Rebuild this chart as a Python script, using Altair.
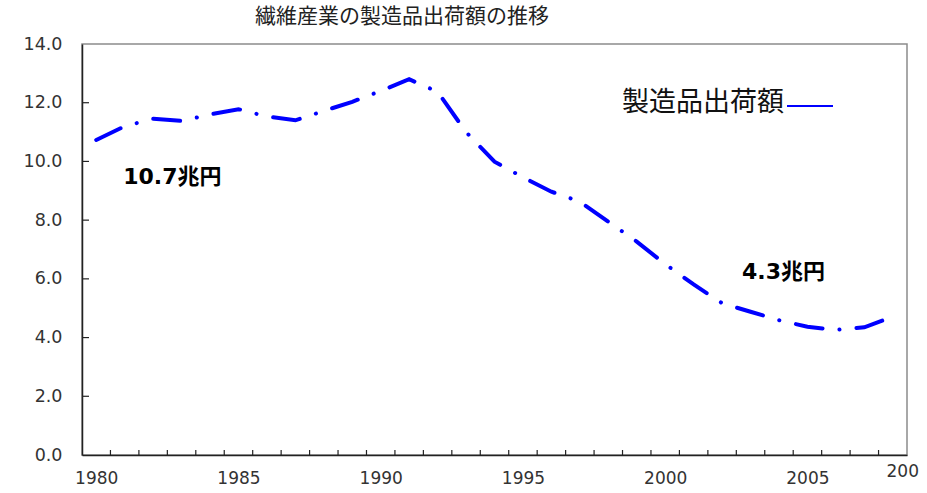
import altair as alt
import pandas as pd

# ---- data ----
years = list(range(1980, 2009))
values = [10.73, 11.2, 11.45, 11.38, 11.6, 11.78, 11.53, 11.4, 11.72, 12.03,
          12.4, 12.8, 12.37, 11.0, 9.99, 9.46, 8.97, 8.63, 7.95, 7.27,
          6.5, 5.81, 5.17, 4.88, 4.59, 4.37, 4.26, 4.35, 4.71]

x_label_years = [1980, 1985, 1990, 1995, 2000, 2005]
x_tick_positions = [y + 0.5 for y in range(1980, 2008)]
y_tick_values = [0, 2, 4, 6, 8, 10, 12, 14]

title_text = "繊維産業の製造品出荷額の推移"
legend_text = "製造品出荷額"
ann_texts = ["10.7兆円", "4.3兆円"]
ann_years = [1980.95, 2002.7]
ann_values = [9.48, 6.24]
cut_label = "200"
cut_label_year = [2008]

W, H = 825, 411
LABEL_FONT = "DejaVu Sans"
CJK_FONT = "Noto Sans CJK JP"
BOLD_MIX = "DejaVu Sans, Noto Sans CJK JP"

df = pd.DataFrame({"year": years, "value": values})
ann_df = pd.DataFrame({"year": ann_years, "value": ann_values, "text": ann_texts})
xt_df = pd.DataFrame({"pos": x_tick_positions})
yt_df = pd.DataFrame({"v": y_tick_values[1:-1]})

xscale = alt.Scale(domain=[1979.5, 2008.5], nice=False, zero=False)
yscale = alt.Scale(domain=[0, 14], nice=False)

line = alt.Chart(df).mark_line(
    color="#0000FF", strokeWidth=4, strokeDash=[27, 17, 0.1, 17], strokeCap="round"
).encode(
    x=alt.X("year:Q", scale=xscale,
            axis=alt.Axis(values=x_label_years, format="d", title=None, ticks=False,
                          tickSize=0, grid=False, domainColor="#222", domainWidth=1.5,
                          labelFont=LABEL_FONT, labelFontSize=17, labelColor="#333",
                          labelPadding=15)),
    y=alt.Y("value:Q", scale=yscale,
            axis=alt.Axis(values=y_tick_values, format=".1f", title=None, ticks=False,
                          tickSize=0, grid=False, domainColor="#222", domainWidth=1.5,
                          labelFont=LABEL_FONT, labelFontSize=17.5, labelColor="#333",
                          labelPadding=20)),
)

xticks = alt.Chart(xt_df).mark_rule(color="#222", strokeWidth=1.2).encode(
    x=alt.X("pos:Q", scale=xscale), y=alt.value(H - 5), y2=alt.value(H)
)
yticks = alt.Chart(yt_df).mark_rule(color="#222", strokeWidth=1.2).encode(
    y=alt.Y("v:Q", scale=yscale), x=alt.value(0), x2=alt.value(7)
)

ann = alt.Chart(ann_df).mark_text(
    font=BOLD_MIX, fontSize=22, fontWeight="bold", align="left",
    baseline="middle", color="#000"
).encode(x=alt.X("year:Q", scale=xscale), y=alt.Y("value:Q", scale=yscale), text="text:N")

cut = alt.Chart(pd.DataFrame({"year": cut_label_year, "t": [cut_label]})).mark_text(
    font=LABEL_FONT, fontSize=17, color="#333", align="center", baseline="middle", dx=10
).encode(x=alt.X("year:Q", scale=xscale), y=alt.value(H + 17), text="t:N")

title = alt.Chart(pd.DataFrame({"t": [title_text]})).mark_text(
    font=CJK_FONT, fontSize=21, color="#222", align="center", baseline="middle"
).encode(x=alt.value(320), y=alt.value(-27), text="t:N")

leg_text = alt.Chart(pd.DataFrame({"t": [legend_text]})).mark_text(
    font=CJK_FONT, fontSize=27, color="#111", align="right", baseline="middle"
).encode(x=alt.value(702), y=alt.value(59), text="t:N")

leg_line = alt.Chart(pd.DataFrame({"t": [legend_text]})).mark_rule(
    color="#0000FF", strokeWidth=2
).encode(x=alt.value(705), x2=alt.value(751), y=alt.value(62))

chart = alt.layer(line, xticks, yticks, ann, cut, title, leg_text, leg_line).properties(
    width=W, height=H,
    autosize=alt.AutoSizeParams(type="none"),
    padding={"left": 82, "top": 44, "right": 20, "bottom": 38},
    background="white",
).configure_view(stroke="#8c8c8c", strokeWidth=1.5)

chart.save("out.html", embed_options={"renderer": "svg", "actions": False})
